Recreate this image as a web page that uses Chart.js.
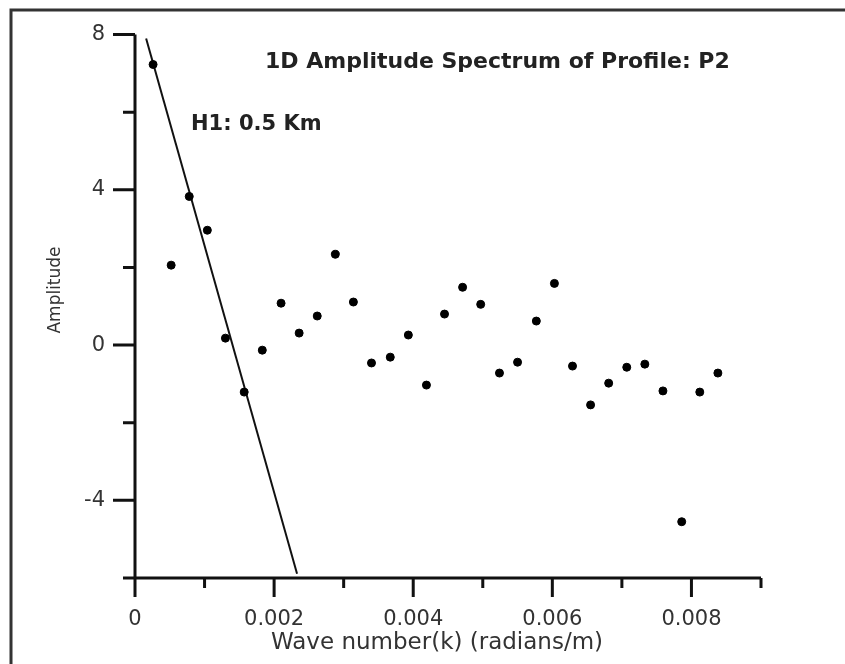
<!DOCTYPE html>
<html>
<head>
<meta charset="utf-8">
<script src="https://cdn.jsdelivr.net/npm/chart.js@4.4.0/dist/chart.umd.min.js"></script>
<style>
  html, body { margin: 0; padding: 0; background: #fff; overflow: hidden; }
  #wrap { position: relative; width: 845px; height: 664px; }
</style>
</head>
<body>
<div id="wrap"><canvas id="spectrum"></canvas></div>
<script>
// wave number k (radians/m) of each spectrum sample
const waveNumber = [
  0.00026, 0.00052, 0.00078, 0.00104, 0.00130, 0.00157, 0.00183, 0.00210,
  0.00236, 0.00262, 0.00288, 0.00314, 0.00340, 0.00367, 0.00393, 0.00419,
  0.00445, 0.00471, 0.00497, 0.00524, 0.00550, 0.00577, 0.00603, 0.00629,
  0.00655, 0.00681, 0.00707, 0.00733, 0.00759, 0.00786, 0.00812, 0.00838
];
const amplitude = [
  7.23, 2.06, 3.83, 2.96, 0.18, -1.21, -0.13, 1.08,
  0.31, 0.75, 2.34, 1.11, -0.46, -0.31, 0.26, -1.03,
  0.80, 1.49, 1.05, -0.72, -0.44, 0.62, 1.59, -0.54,
  -1.54, -0.98, -0.57, -0.49, -1.18, -4.55, -1.21, -0.72
];

// fitted line for the shallow source (H1)
const fitK = [0.00016, 0.00233];
const fitAmp = [7.9, -5.89];

const xTickLabels = ['0', '0.002', '0.004', '0.006', '0.008'];
const yTickLabels = ['-4', '0', '4', '8'];

const titleText = '1D Amplitude Spectrum of Profile: P2';
const depthText = 'H1: 0.5 Km';
const xTitle = 'Wave number(k) (radians/m)';
const yTitle = 'Amplitude';

const FONT = '"DejaVu Sans", "Liberation Sans", Arial, sans-serif';

function xLabel(v) {
    const s = v === 0 ? '0' : v.toFixed(3);
    return xTickLabels.includes(s) ? s : '';
}
function yLabel(v) {
    const s = String(Math.round(v));
    return yTickLabels.includes(s) ? s : '';
}

// frame, axis lines, long/short ticks and free text
const axesPlugin = {
    id: 'axesPlugin',
    afterDraw(chart) {
        const { ctx, chartArea: a, scales: { x, y } } = chart;
        ctx.save();

        // outer frame (only top and left are visible in the picture)
        ctx.strokeStyle = '#333';
        ctx.lineWidth = 3;
        ctx.beginPath();
        ctx.moveTo(11, 664);
        ctx.lineTo(11, 10);
        ctx.lineTo(845, 10);
        ctx.stroke();

        ctx.strokeStyle = '#111';
        ctx.lineWidth = 3;
        ctx.beginPath();
        ctx.moveTo(a.left, a.top);
        ctx.lineTo(a.left, a.bottom);
        ctx.moveTo(a.left, a.bottom);
        ctx.lineTo(a.right, a.bottom);

        x.ticks.forEach(t => {
            const px = x.getPixelForValue(t.value);
            const len = xLabel(t.value) ? 19 : 10;
            ctx.moveTo(px, a.bottom);
            ctx.lineTo(px, a.bottom + len);
        });
        y.ticks.forEach(t => {
            const py = y.getPixelForValue(t.value);
            const len = yLabel(t.value) ? 22 : 12;
            ctx.moveTo(a.left, py);
            ctx.lineTo(a.left - len, py);
        });
        ctx.stroke();

        ctx.fillStyle = '#222';
        ctx.textBaseline = 'middle';
        ctx.textAlign = 'left';
        ctx.font = 'bold 22px ' + FONT;
        ctx.fillText(titleText, 265, 62);
        ctx.font = 'bold 21px ' + FONT;
        ctx.fillText(depthText, 191, 125);

        ctx.fillStyle = '#333';
        ctx.font = '23px ' + FONT;
        ctx.textAlign = 'center';
        ctx.fillText(xTitle, 437, 643);

        ctx.font = '17px ' + FONT;
        ctx.translate(56, 290);
        ctx.rotate(-Math.PI / 2);
        ctx.fillText(yTitle, 0, 0);

        ctx.restore();
    }
};

new Chart(document.getElementById('spectrum'), {
    type: 'scatter',
    data: {
        datasets: [
            {
                label: 'Amplitude',
                data: waveNumber.map((k, i) => ({ x: k, y: amplitude[i] })),
                backgroundColor: '#000',
                borderColor: '#000',
                pointRadius: 4,
                pointHoverRadius: 4
            },
            {
                label: 'H1 fit',
                data: fitK.map((k, i) => ({ x: k, y: fitAmp[i] })),
                showLine: true,
                borderColor: '#111',
                borderWidth: 2,
                pointRadius: 0
            }
        ]
    },
    options: {
        responsive: true,
        maintainAspectRatio: false,
        animation: false,
        layout: { padding: { top: 27, right: 84, left: 0, bottom: 0 } },
        plugins: { legend: { display: false }, tooltip: { enabled: false } },
        scales: {
            x: {
                type: 'linear',
                min: 0,
                max: 0.009,
                grid: { display: false },
                border: { display: false },
                afterFit: s => { s.height = 86; },
                ticks: {
                    stepSize: 0.001,
                    autoSkip: false,
                    maxRotation: 0,
                    padding: 21,
                    color: '#333',
                    font: { family: FONT, size: 21 },
                    callback: v => xLabel(v)
                }
            },
            y: {
                type: 'linear',
                min: -6,
                max: 8,
                grid: { display: false },
                border: { display: false },
                afterFit: s => { s.width = 135; },
                ticks: {
                    stepSize: 2,
                    autoSkip: false,
                    padding: 22,
                    color: '#333',
                    font: { family: FONT, size: 21 },
                    callback: v => yLabel(v)
                }
            }
        }
    },
    plugins: [axesPlugin]
});
</script>
</body>
</html>
